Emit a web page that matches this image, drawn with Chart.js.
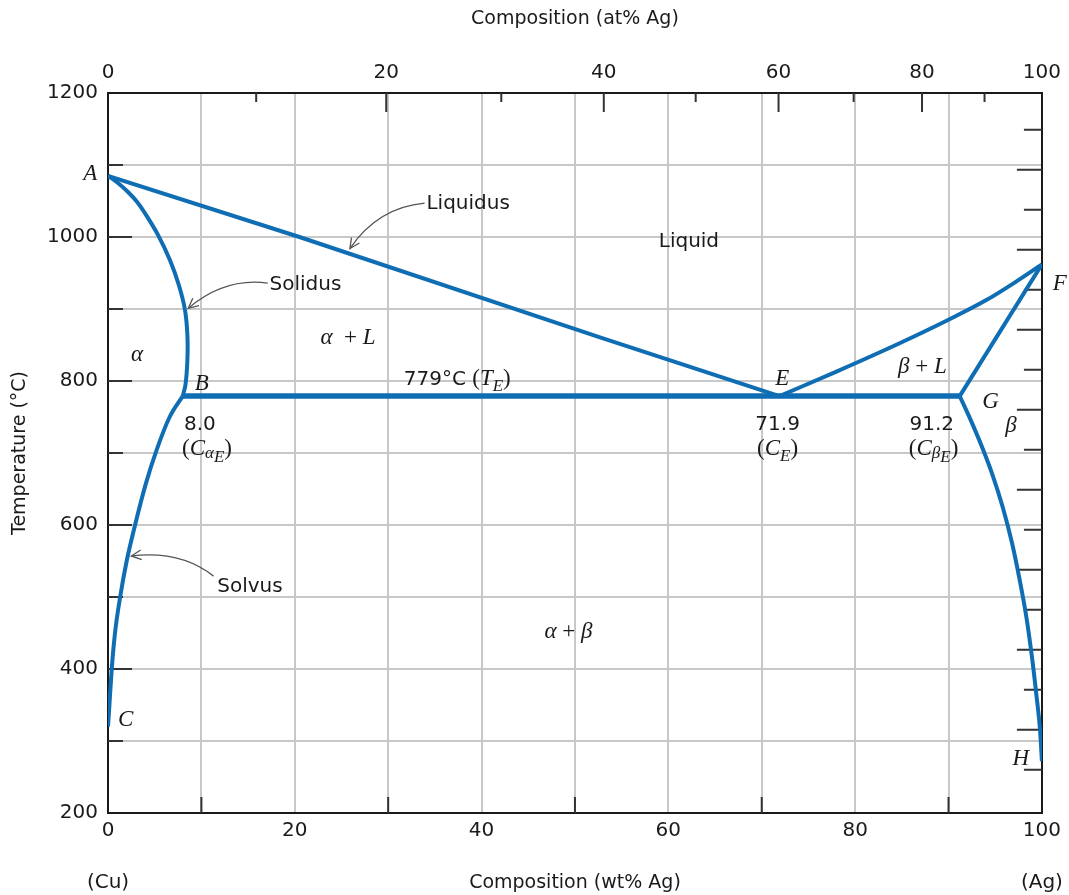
<!DOCTYPE html>
<html>
<head>
<meta charset="utf-8">
<script src="https://cdn.jsdelivr.net/npm/chart.js@4.4.1/dist/chart.umd.min.js"></script>
<style>
  html, body { margin: 0; padding: 0; background: #fff; }
  canvas { display: block; }
</style>
</head>
<body>
<canvas id="phase" width="1069" height="895" style="width:1069px;height:895px"></canvas>
<script>
// Cu-Ag phase diagram. Composition in wt% Ag, temperature in degrees C.

// Phase boundaries
const liquidusAlphaX = [0, 20.5, 52.6, 71.9];
const liquidusAlphaT = [1085, 1000, 861, 779];

const solidusAlphaX = [0, 1.07, 2.14, 3.1, 3.96, 5.35, 6.63, 7.59, 8.24, 8.5, 8.5, 8.3, 8.0];
const solidusAlphaT = [1085, 1075, 1062.5, 1049, 1033, 1003, 968, 933, 899, 864, 829, 795, 779];

const solvusAlphaX = [0, 0.15, 0.4, 0.75, 1.3, 2.0, 2.9, 4.0, 5.2, 6.6, 8.0];
const solvusAlphaT = [320, 350, 400, 450, 500, 550, 600, 655, 704, 750, 779];

const eutecticX = [8.0, 91.2];
const eutecticT = [779, 779];

const liquidusBetaX = [71.9, 78, 84.7, 90, 94, 97, 100];
const liquidusBetaT = [779, 813, 852, 885, 912, 936, 962];

const solidusBetaX = [91.2, 100];
const solidusBetaT = [779, 962];

const solvusBetaX = [91.2, 92.4, 93.6, 94.7, 95.8, 96.8, 97.6, 98.3, 98.9, 99.4, 99.8, 100];
const solvusBetaT = [779, 745, 708, 670, 625, 575, 525, 475, 420, 365, 315, 272];

// Axis ticks
const wtGrid = [0, 10, 20, 30, 40, 50, 60, 70, 80, 90, 100];
const wtLabels = [0, 20, 40, 60, 80, 100];
const wtMarks = [10, 30, 50, 70, 90];
const atLabels = [0, 20, 40, 60, 80, 100];
const atMarks = [10, 20, 30, 40, 50, 60, 70, 80, 90];
const tempGrid = [200, 300, 400, 500, 600, 700, 800, 900, 1000, 1100, 1200];
const tempLabels = [200, 400, 600, 800, 1000, 1200];
const tempMarks = [300, 400, 500, 600, 700, 800, 900, 1000, 1100];
const fahrMarks = [500, 600, 700, 800, 900, 1000, 1100, 1200, 1300, 1400, 1500, 1600, 1700, 1800, 1900, 2000, 2100];

const M_CU = 63.55, M_AG = 107.87;
function atToWt(a) {
  return 100 * a * M_AG / (a * M_AG + (100 - a) * M_CU);
}

const BLUE = '#0f6db4';
const INK = '#1a1a1a';
const GRID = '#c8c8c8';

const SANS = '20px "DejaVu Sans"';
const MATH = 'italic 23px "Liberation Serif"';
const ROMAN = '23px "Liberation Serif"';
const SUB = 'italic 17px "Liberation Serif"';

// Text annotations: parts are [text, font, baseline shift]
const notes = [
  { at: [-1.9, 1089], parts: [['A', MATH, 0]] },
  { at: [10.05, 797], parts: [['B', MATH, 0]] },
  { at: [1.9, 330], parts: [['C', MATH, 0]] },
  { at: [72.2, 804], parts: [['E', MATH, 0]] },
  { at: [101.9, 936], parts: [['F', MATH, 0]] },
  { at: [94.5, 772], parts: [['G', MATH, 0]] },
  { at: [97.75, 277], parts: [['H', MATH, 0]] },
  { at: [62.2, 996], parts: [['Liquid', SANS, 0]] },
  { at: [3.1, 837], parts: [['\u03b1', MATH, 0]] },
  { at: [25.7, 861], parts: [['\u03b1', MATH, 0], ['  + ', ROMAN, 0], ['L', MATH, 0]] },
  { at: [87.2, 821], parts: [['\u03b2', MATH, 0], [' + ', ROMAN, 0], ['L', MATH, 0]] },
  { at: [96.7, 739], parts: [['\u03b2', MATH, 0]] },
  { at: [49.3, 453], parts: [['\u03b1', MATH, 0], [' + ', ROMAN, 0], ['\u03b2', MATH, 0]] },
  { at: [37.4, 804], parts: [['779\u00b0C ', SANS, 0], ['(', ROMAN, 0], ['T', MATH, 0], ['E', SUB, 6], [')', ROMAN, 0]] },
  { at: [9.84, 742], parts: [['8.0', SANS, 0]] },
  { at: [10.6, 707], parts: [['(', ROMAN, 0], ['C', MATH, 0], ['\u03b1', SUB, 3], ['E', SUB, 7], [')', ROMAN, 0]] },
  { at: [71.7, 742], parts: [['71.9', SANS, 0]] },
  { at: [71.7, 707], parts: [['(', ROMAN, 0], ['C', MATH, 0], ['E', SUB, 6], [')', ROMAN, 0]] },
  { at: [88.2, 742], parts: [['91.2', SANS, 0]] },
  { at: [88.4, 707], parts: [['(', ROMAN, 0], ['C', MATH, 0], ['\u03b2', SUB, 3], ['E', SUB, 7], [')', ROMAN, 0]] },
  { at: [34.1, 1049], parts: [['Liquidus', SANS, 0]], align: 'left' },
  { at: [17.3, 936], parts: [['Solidus', SANS, 0]], align: 'left' },
  { at: [11.7, 516], parts: [['Solvus', SANS, 0]], align: 'left' }
];

// Leader arrows: start, control, tip (wt%, degrees C)
const arrows = [
  [[33.9, 1047], [28.9, 1041], [25.9, 984]],
  [[17.1, 936], [12.5, 944], [8.6, 901]],
  [[11.3, 529], [7.8, 565], [2.5, 557]]
];

function pts(xs, ts) {
  return xs.map((x, i) => ({ x: x, y: ts[i] }));
}

function boundary(xs, ts, width, smooth) {
  const ds = {
    data: pts(xs, ts),
    showLine: true,
    borderColor: BLUE,
    borderWidth: width,
    pointRadius: 0,
    tension: 0,
    fill: false
  };
  if (smooth === 'monotone') {
    ds.cubicInterpolationMode = 'monotone';
    ds.tension = 0.4;
  } else if (smooth) {
    ds.tension = smooth;
  }
  return ds;
}

function drawRich(ctx, parts, cx, cy, align) {
  let w = 0;
  parts.forEach(p => { ctx.font = p[1]; w += ctx.measureText(p[0]).width; });
  let x = align === 'left' ? cx : cx - w / 2;
  const base = cy + 7;
  ctx.textAlign = 'left';
  ctx.textBaseline = 'alphabetic';
  parts.forEach(p => {
    ctx.font = p[1];
    ctx.fillText(p[0], x, base + p[2]);
    x += ctx.measureText(p[0]).width;
  });
}

const decorations = {
  id: 'decorations',
  beforeDatasetsDraw(chart) {
    const ctx = chart.ctx;
    const { left, right, top, bottom } = chart.chartArea;
    const sx = chart.scales.x, sy = chart.scales.y, sf = chart.scales.yF;
    ctx.save();
    ctx.strokeStyle = '#333';
    ctx.lineWidth = 2;
    ctx.beginPath();
    tempMarks.forEach(t => {
      const y = sy.getPixelForValue(t);
      ctx.moveTo(left, y);
      ctx.lineTo(left + (t % 200 === 0 ? 24 : 15), y);
    });
    fahrMarks.forEach(f => {
      const y = sf.getPixelForValue(f);
      ctx.moveTo(right, y);
      ctx.lineTo(right - (f % 200 === 0 ? 25 : 18), y);
    });
    atMarks.forEach(a => {
      const x = sx.getPixelForValue(atToWt(a));
      ctx.moveTo(x, top);
      ctx.lineTo(x, top + (a % 20 === 0 ? 19 : 9));
    });
    wtMarks.forEach(w => {
      const x = sx.getPixelForValue(w);
      ctx.moveTo(x, bottom);
      ctx.lineTo(x, bottom - 16);
    });
    ctx.stroke();
    ctx.restore();
  },
  afterDatasetsDraw(chart) {
    const ctx = chart.ctx;
    const sx = chart.scales.x, sy = chart.scales.y;
    const px = p => ({ x: sx.getPixelForValue(p[0]), y: sy.getPixelForValue(p[1]) });
    ctx.save();
    ctx.fillStyle = INK;
    notes.forEach(n => {
      const p = px(n.at);
      drawRich(ctx, n.parts, p.x, p.y, n.align);
    });

    ctx.strokeStyle = '#555';
    ctx.lineWidth = 1.3;
    arrows.forEach(a => {
      const p0 = px(a[0]), c = px(a[1]), p1 = px(a[2]);
      ctx.beginPath();
      ctx.moveTo(p0.x, p0.y);
      ctx.quadraticCurveTo(c.x, c.y, p1.x, p1.y);
      ctx.stroke();
      const ang = Math.atan2(p1.y - c.y, p1.x - c.x);
      const L = 11, s = 0.45;
      ctx.beginPath();
      ctx.moveTo(p1.x - L * Math.cos(ang - s), p1.y - L * Math.sin(ang - s));
      ctx.lineTo(p1.x, p1.y);
      ctx.lineTo(p1.x - L * Math.cos(ang + s), p1.y - L * Math.sin(ang + s));
      ctx.stroke();
    });

    // element labels under the bottom axis
    ctx.font = SANS;
    ctx.textAlign = 'center';
    ctx.textBaseline = 'middle';
    ctx.fillText('(Cu)', sx.getPixelForValue(0), 883);
    ctx.fillText('(Ag)', sx.getPixelForValue(100), 883);
    ctx.restore();
  }
};

const tickFont = { family: 'DejaVu Sans', size: 20 };
const titleFont = { family: 'DejaVu Sans', size: 19 };

new Chart(document.getElementById('phase'), {
  type: 'scatter',
  data: {
    datasets: [
      boundary(liquidusAlphaX, liquidusAlphaT, 4, 0),
      boundary(solidusAlphaX, solidusAlphaT, 4, 0.35),
      boundary(solvusAlphaX, solvusAlphaT, 4, 'monotone'),
      boundary(liquidusBetaX, liquidusBetaT, 4, 'monotone'),
      boundary(solidusBetaX, solidusBetaT, 4, 0),
      boundary(solvusBetaX, solvusBetaT, 4, 'monotone'),
      boundary(eutecticX, eutecticT, 5.5, 0)
    ]
  },
  options: {
    responsive: false,
    animation: false,
    layout: { padding: 0 },
    plugins: {
      legend: { display: false },
      tooltip: { enabled: false }
    },
    scales: {
      x: {
        type: 'linear',
        position: 'bottom',
        min: 0,
        max: 100,
        afterBuildTicks: s => { s.ticks = wtGrid.map(v => ({ value: v })); },
        ticks: {
          autoSkip: false,
          maxRotation: 0,
          padding: 6,
          color: INK,
          font: tickFont,
          callback: v => wtLabels.includes(v) ? String(v) : ''
        },
        grid: { color: GRID, lineWidth: 2, drawTicks: false },
        border: { color: INK, width: 2 },
        title: {
          display: true,
          text: 'Composition (wt% Ag)',
          color: INK,
          font: titleFont,
          padding: { top: 0, bottom: 1 }
        },
        afterFit: s => { s.height = 82; }
      },
      xTop: {
        type: 'linear',
        position: 'top',
        min: 0,
        max: 100,
        afterBuildTicks: s => { s.ticks = atLabels.map(a => ({ value: atToWt(a) })); },
        ticks: {
          autoSkip: false,
          maxRotation: 0,
          padding: 8,
          color: INK,
          font: tickFont,
          callback: (v, i) => String(atLabels[i])
        },
        grid: { drawOnChartArea: false, drawTicks: false },
        border: { color: INK, width: 2 },
        title: {
          display: true,
          text: 'Composition (at% Ag)',
          color: INK,
          font: titleFont,
          padding: { top: 8, bottom: 0 }
        },
        afterFit: s => { s.height = 93; }
      },
      y: {
        type: 'linear',
        position: 'left',
        min: 200,
        max: 1200,
        afterBuildTicks: s => { s.ticks = tempGrid.map(v => ({ value: v })); },
        ticks: {
          padding: 10,
          color: INK,
          font: tickFont,
          callback: v => tempLabels.includes(v) ? String(v) : ''
        },
        grid: { color: GRID, lineWidth: 2, drawTicks: false },
        border: { color: INK, width: 2 },
        title: {
          display: true,
          text: 'Temperature (\u00b0C)',
          color: INK,
          font: titleFont,
          padding: { top: 9, bottom: 0 }
        },
        afterFit: s => { s.width = 108; }
      },
      yF: {
        type: 'linear',
        position: 'right',
        min: 392,
        max: 2192,
        ticks: { display: false },
        grid: { drawOnChartArea: false, drawTicks: false },
        border: { color: INK, width: 2 },
        afterFit: s => { s.width = 23; }
      }
    }
  },
  plugins: [decorations]
});
</script>
</body>
</html>
